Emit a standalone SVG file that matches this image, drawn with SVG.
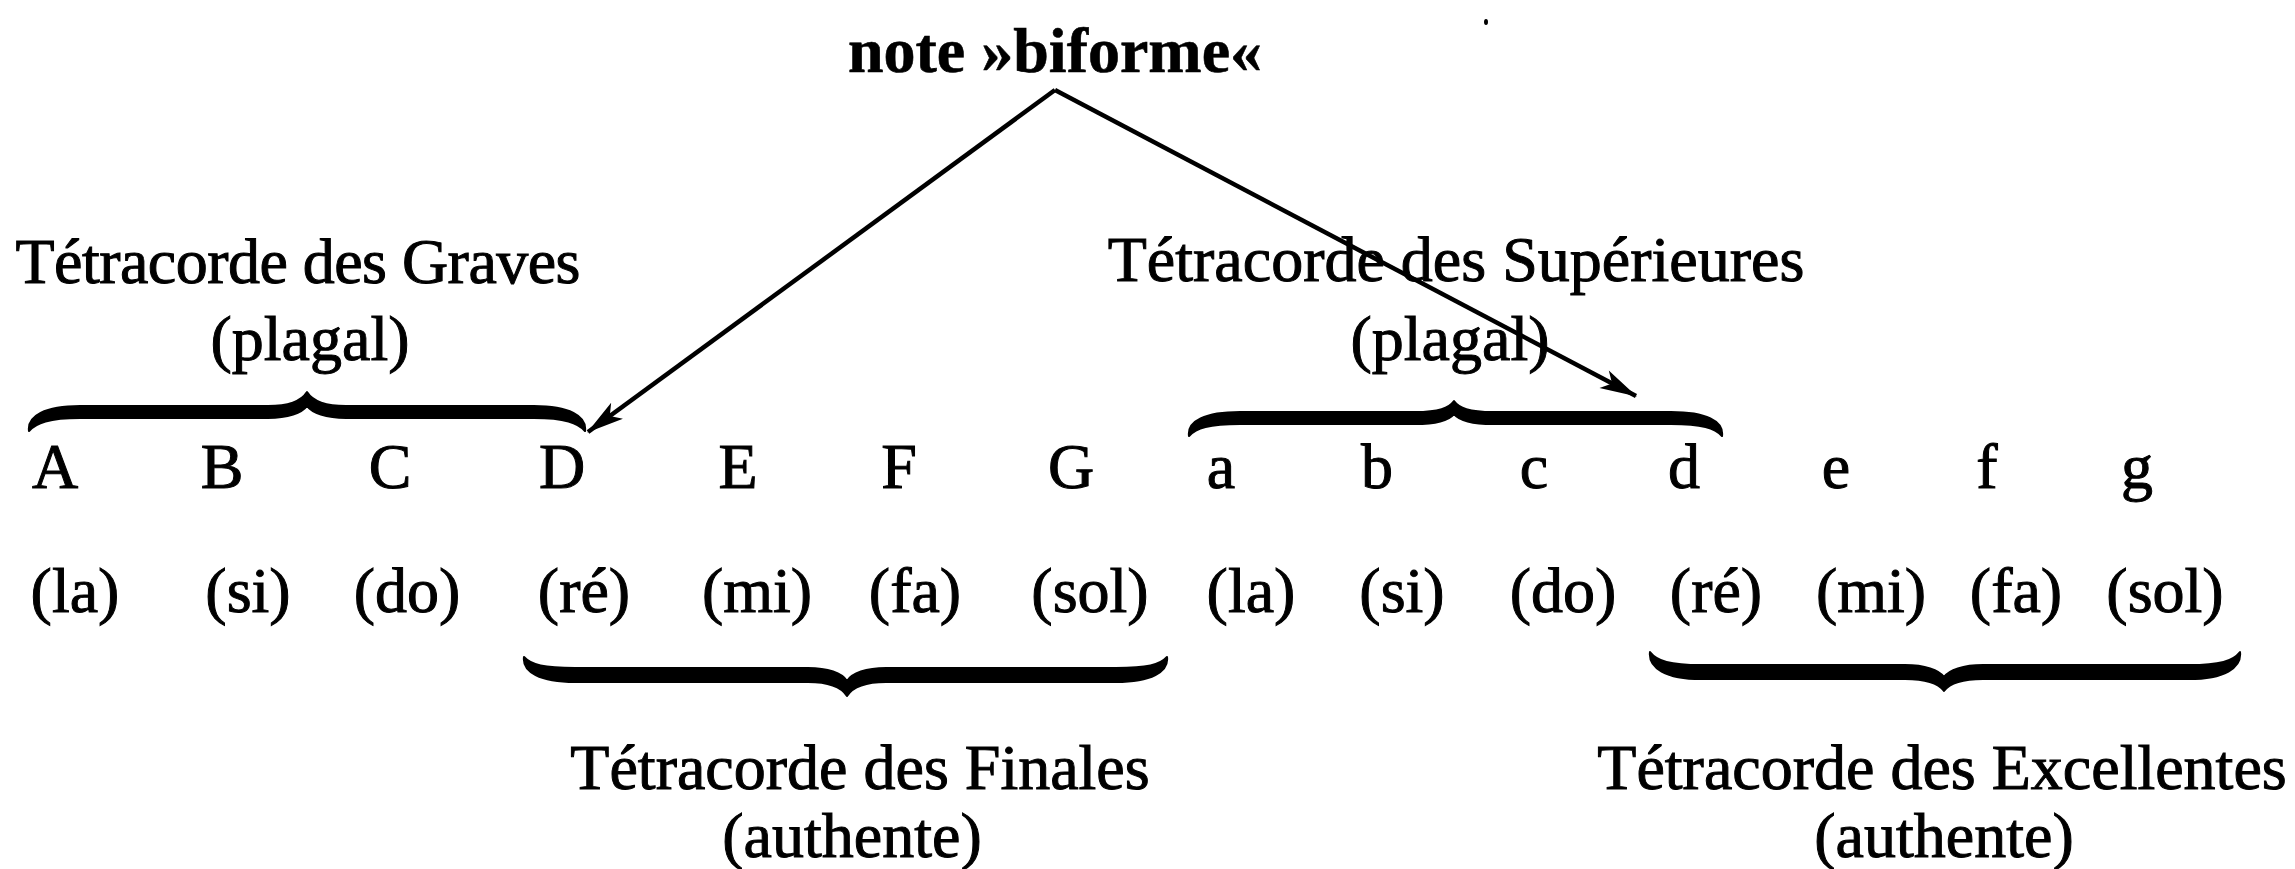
<svg xmlns="http://www.w3.org/2000/svg" width="2295" height="869" viewBox="0 0 2295 869">
<style>
text{font-family:"Liberation Serif","Times New Roman",serif;font-size:64px;fill:#000;stroke:#000;stroke-width:1;text-anchor:middle}
.b{font-weight:bold;stroke-width:0.6}
.brace{fill:#000;stroke:#000;stroke-width:2;stroke-linejoin:round}
.conn{stroke:#000;stroke-width:4.5;fill:none}
</style>
<defs>
<marker id="ah" markerUnits="userSpaceOnUse" viewBox="-40 -11 42 22" refX="0" refY="0" markerWidth="42" markerHeight="22" orient="auto">
<path d="M1,0 L-36,-10 L-27,0 L-36,10 Z" fill="#000"/>
</marker>
</defs>
<rect width="2295" height="869" fill="#fff"/>

<g id="note-biforme"><text class="b" x="1055" y="72">note »biforme«</text></g>

<g id="graves">
<text x="298" y="283" textLength="565">Tétracorde des Graves</text>
<text x="310" y="360">(plagal)</text>
<path class="brace" d="M 29 431 C 27 416, 45 406, 80 406 L 268 406 C 292 406, 302 400, 307 392 C 312 400, 322 406, 346 406 L 534 406 C 569 406, 587 416, 585 431 C 578 423, 565 418, 534 418 L 346 418 C 326 418, 312 413, 307 406 C 302 413, 288 418, 268 418 L 80 418 C 49 418, 36 423, 29 431 Z"/>
</g>

<g id="superieures">
<text x="1456" y="281">Tétracorde des Supérieures</text>
<text x="1450" y="360">(plagal)</text>
<path class="brace" d="M 1189 436 C 1187 421, 1205 412, 1240 412 L 1415 412 C 1439 412, 1449 408, 1454 401 C 1459 408, 1469 412, 1493 412 L 1671 412 C 1706 412, 1724 421, 1722 436 C 1715 428, 1702 424, 1671 424 L 1493 424 C 1473 424, 1459 420, 1454 414 C 1449 420, 1435 424, 1415 424 L 1240 424 C 1209 424, 1196 428, 1189 436 Z"/>
</g>

<g id="letters">
<text x="55" y="488">A</text>
<text x="222" y="488">B</text>
<text x="390" y="488">C</text>
<text x="562" y="488">D</text>
<text x="738" y="488">E</text>
<text x="899" y="488">F</text>
<text x="1071" y="488">G</text>
<text x="1221" y="488">a</text>
<text x="1377" y="488">b</text>
<text x="1534" y="488">c</text>
<text x="1684" y="488">d</text>
<text x="1836" y="488">e</text>
<text x="1987" y="488">f</text>
<text x="2137" y="488">g</text>
</g>

<g id="solfege">
<text x="75" y="612">(la)</text>
<text x="248" y="612">(si)</text>
<text x="407" y="612">(do)</text>
<text x="584" y="612">(ré)</text>
<text x="757" y="612">(mi)</text>
<text x="915" y="612">(fa)</text>
<text x="1090" y="612">(sol)</text>
<text x="1251" y="612">(la)</text>
<text x="1402" y="612">(si)</text>
<text x="1563" y="612">(do)</text>
<text x="1716" y="612">(ré)</text>
<text x="1871" y="612">(mi)</text>
<text x="2016" y="612">(fa)</text>
<text x="2165" y="612">(sol)</text>
</g>

<g id="finales">
<path class="brace" d="M 524 657 C 531 665, 544 668, 575 668 L 808 668 C 828 668, 842 673, 847 681 C 852 673, 866 668, 886 668 L 1116 668 C 1147 668, 1160 665, 1167 657 C 1169 672, 1151 682, 1116 682 L 886 682 C 862 682, 852 688, 847 696 C 842 688, 832 682, 808 682 L 575 682 C 540 682, 522 672, 524 657 Z"/>
<text x="860" y="789">Tétracorde des Finales</text>
<text x="852" y="857">(authente)</text>
</g>

<g id="excellentes">
<path class="brace" d="M 1650 652 C 1657 661, 1670 665, 1701 665 L 1905 665 C 1925 665, 1939 670, 1944 677 C 1949 670, 1963 665, 1983 665 L 2189 665 C 2220 665, 2233 661, 2240 652 C 2242 668, 2224 679, 2189 679 L 1983 679 C 1959 679, 1949 684, 1944 691 C 1939 684, 1929 679, 1905 679 L 1701 679 C 1666 679, 1648 668, 1650 652 Z"/>
<text x="1942" y="789">Tétracorde des Excellentes</text>
<text x="1944" y="857">(authente)</text>
</g>

<g id="connectors">
<path class="conn" d="M 1055 90 L 588 432" marker-end="url(#ah)"/>
<path class="conn" d="M 1055 90 L 1636 396" marker-end="url(#ah)"/>
</g>

<ellipse cx="1486" cy="22" rx="2" ry="3" fill="#000"/>
</svg>
